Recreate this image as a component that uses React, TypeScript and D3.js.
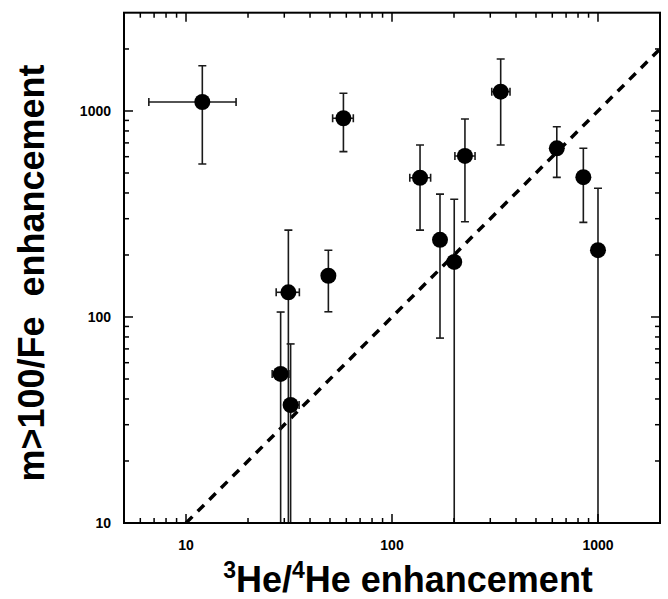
import React from "react";
import * as d3 from "d3";

const xVals = [12.0, 28.8, 31.4, 32.2, 49.1, 58.1, 136.8, 171, 200.5, 226, 337, 631, 849, 1000];
const yVals = [1106, 52.9, 131.8, 37.4, 158.6, 922, 474, 237, 185, 605, 1241, 659, 477, 211];
const yLow = [553, 1, 1, 1, 106, 635, 264, 79, 1, 290, 684, 476, 288, 1];
const yHigh = [1659, 105.7, 264, 74, 211, 1219, 684, 395, 373, 914, 1788, 839, 659, 422];
const xLow: (number | null)[] = [6.6, 26.2, 27.4, 30.3, null, 51.5, 122, null, null, 202, 305, null, null, null];
const xHigh: (number | null)[] = [17.5, 31.6, 35.5, 35.4, null, 64.9, 154, null, null, 253, 374, null, null, null];

const xDomain = [5, 2000];
const yDomain = [10, 3000];
const xTickLabels = [10, 100, 1000];
const yTickLabels = [10, 100, 1000];
const refLine = [10, 2000];

const W = 668, H = 599;
const L = 124, R = 660, T = 12.7, B = 523;
const FONT = "'Liberation Sans', Arial, Helvetica, sans-serif";

function logTicks(lo: number, hi: number) {
  const out: { v: number; major: boolean }[] = [];
  for (let d = 1; d <= 1000; d *= 10) {
    for (let k = 1; k <= 9; k++) {
      const v = k * d;
      if (v > lo * 1.0001 && v < hi * 0.9999) out.push({ v, major: k === 1 });
    }
  }
  return out;
}

export default function App() {
  const x = d3.scaleLog().domain(xDomain).range([L, R]);
  const y = d3.scaleLog().domain(yDomain).range([B, T]);
  const xt = logTicks(xDomain[0], xDomain[1]);
  const yt = logTicks(yDomain[0], yDomain[1]);
  const major = 9, minor = 5;
  const line = d3.line<number>().x((d) => x(d)).y((d) => y(d));
  const sw = 1.6;
  const cap = 4;

  return (
    <svg width={W} height={H} style={{ position: "absolute", left: 0, top: 0, background: "#fff" }} fontFamily={FONT}>
      <defs>
        <clipPath id="plot">
          <rect x={L} y={T} width={R - L} height={B - T} />
        </clipPath>
      </defs>
      <g clipPath="url(#plot)">
        <path d={line(refLine) || ""} stroke="#000" strokeWidth={3.5} strokeDasharray="9 7.5" fill="none" />
        {xVals.map((xv, i) => {
          const cx = x(xv), cy = y(yVals[i]);
          const y1 = y(yHigh[i]), y0 = y(Math.max(yLow[i], 5));
          const xl = xLow[i], xh = xHigh[i];
          return (
            <g key={i} stroke="#1a1a1a" strokeWidth={sw}>
              <line x1={cx} x2={cx} y1={y1} y2={y0} />
              <line x1={cx - cap} x2={cx + cap} y1={y1} y2={y1} />
              {yLow[i] > 10 && <line x1={cx - cap} x2={cx + cap} y1={y0} y2={y0} />}
              {xl != null && xh != null && (
                <g>
                  <line x1={x(xl)} x2={x(xh)} y1={cy} y2={cy} />
                  <line x1={x(xl)} x2={x(xl)} y1={cy - cap} y2={cy + cap} />
                  <line x1={x(xh)} x2={x(xh)} y1={cy - cap} y2={cy + cap} />
                </g>
              )}
            </g>
          );
        })}
        {xVals.map((xv, i) => (
          <circle key={"c" + i} cx={x(xv)} cy={y(yVals[i])} r={8} fill="#000" />
        ))}
      </g>
      <g stroke="#000" strokeWidth={1.5}>
        {xt.map((t, i) => {
          const px = x(t.v);
          const len = t.major ? major : minor;
          return (
            <g key={"xt" + i}>
              <line x1={px} x2={px} y1={B} y2={B - len} />
              <line x1={px} x2={px} y1={T} y2={T + len} />
            </g>
          );
        })}
        {yt.map((t, i) => {
          const py = y(t.v);
          const len = t.major ? major : minor;
          return (
            <g key={"yt" + i}>
              <line x1={L} x2={L + len} y1={py} y2={py} />
              <line x1={R} x2={R - len} y1={py} y2={py} />
            </g>
          );
        })}
      </g>
      <rect x={L} y={T} width={R - L} height={B - T} fill="none" stroke="#000" strokeWidth={2} />
      {xTickLabels.map((v) => (
        <text key={"xl" + v} x={x(v)} y={550} textAnchor="middle" fontSize={14} fontWeight="bold">
          {v}
        </text>
      ))}
      {yTickLabels.map((v) => (
        <text key={"yl" + v} x={111} y={y(v) + 5} textAnchor="end" fontSize={14} fontWeight="bold">
          {v}
        </text>
      ))}
      <text x={408} y={592} textAnchor="middle" fontSize={36} fontWeight="bold">
        <tspan fontSize={23} dy={-14}>3</tspan>
        <tspan dy={14}>He/</tspan>
        <tspan fontSize={23} dy={-14}>4</tspan>
        <tspan dy={14}>He enhancement</tspan>
      </text>
      <text
        transform={`translate(44, 273) rotate(-90)`}
        textAnchor="middle"
        fontSize={36}
        fontWeight="bold"
      >
        {"m>100/Fe\u00A0\u00A0enhancement"}
      </text>
    </svg>
  );
}
